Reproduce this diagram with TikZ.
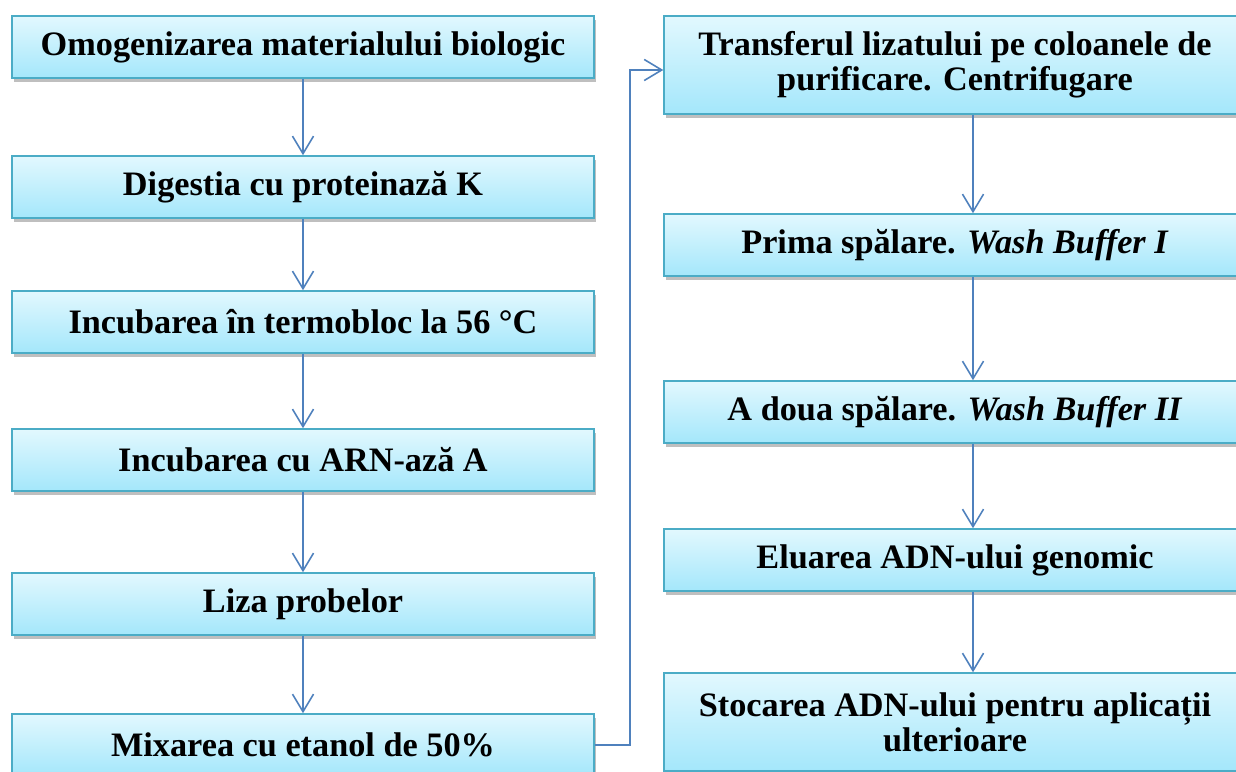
\documentclass[tikz,border=0pt]{standalone}
\usepackage{fontspec}
\setmainfont{Liberation Serif}
\usetikzlibrary{arrows.meta,shadows,positioning}

\definecolor{boxtop}{HTML}{E2F8FE}
\definecolor{boxbot}{HTML}{A4E7FB}
\definecolor{boxline}{HTML}{4BACC6}
\definecolor{arrline}{HTML}{4F81BD}

\tikzset{
	stepbox/.style={draw=boxline,line width=0.9pt,top color=boxtop,bottom color=boxbot,
		minimum width=11.64cm,minimum height=1.24cm,inner sep=0pt,align=center,
		font=\fontsize{19.5}{20}\selectfont\bfseries,
		drop shadow={shadow xshift=1.2pt,shadow yshift=-2pt,opacity=0.25,fill=black}},
	tallbox/.style={stepbox,minimum height=1.96cm},
	flow/.style={draw=arrline,line width=0.9pt,-{Straight Barb[length=10pt,width=12pt]}}
}

\begin{document}
\begin{tikzpicture}[x=0.02cm,y=-0.02cm]
	\useasboundingbox (0,0) rectangle (1236,771);

	% left column
	\foreach \t/\y [count=\n] in
		{Omogenizarea materialului biologic/47,
		 Digestia cu proteinază K/187,
		 Incubarea în termobloc la 56 °C/322,
		 Incubarea cu ARN-ază A/460,
		 Liza probelor/604,
		 Mixarea cu etanol de 50\%/745}
		\node[stepbox](L\n) at (303,\y) {\t};

	% right column
	\node[tallbox](R1) at (955,65) {Transferul lizatului pe coloanele de\\purificare. Centrifugare};
	\node[stepbox](R2) at (955,245) {Prima spălare. \textit{Wash Buffer I}};
	\node[stepbox](R3) at (955,412) {A doua spălare. \textit{Wash Buffer II}};
	\node[stepbox](R4) at (955,560) {Eluarea ADN-ului genomic};
	\node[tallbox](R5) at (955,722) {Stocarea ADN-ului pentru aplicații\\ulterioare};

	\foreach \i in {1,...,5}
	{
		\pgfmathtruncatemacro{\TempVar}{\i+1}
		\draw[flow] (L\i.south) -- (L\TempVar.north);
	}
	\foreach \i in {1,...,4}
	{
		\pgfmathtruncatemacro{\TempVar}{\i+1}
		\draw[flow] ([xshift=0.36cm]R\i.south) -- ([xshift=0.36cm]R\TempVar.north);
	}

	% link between the two columns
	\coordinate (J) at (630,70);
	\draw[flow] (L6.east) -| (J) -- (J -| R1.west);
\end{tikzpicture}
\end{document}
